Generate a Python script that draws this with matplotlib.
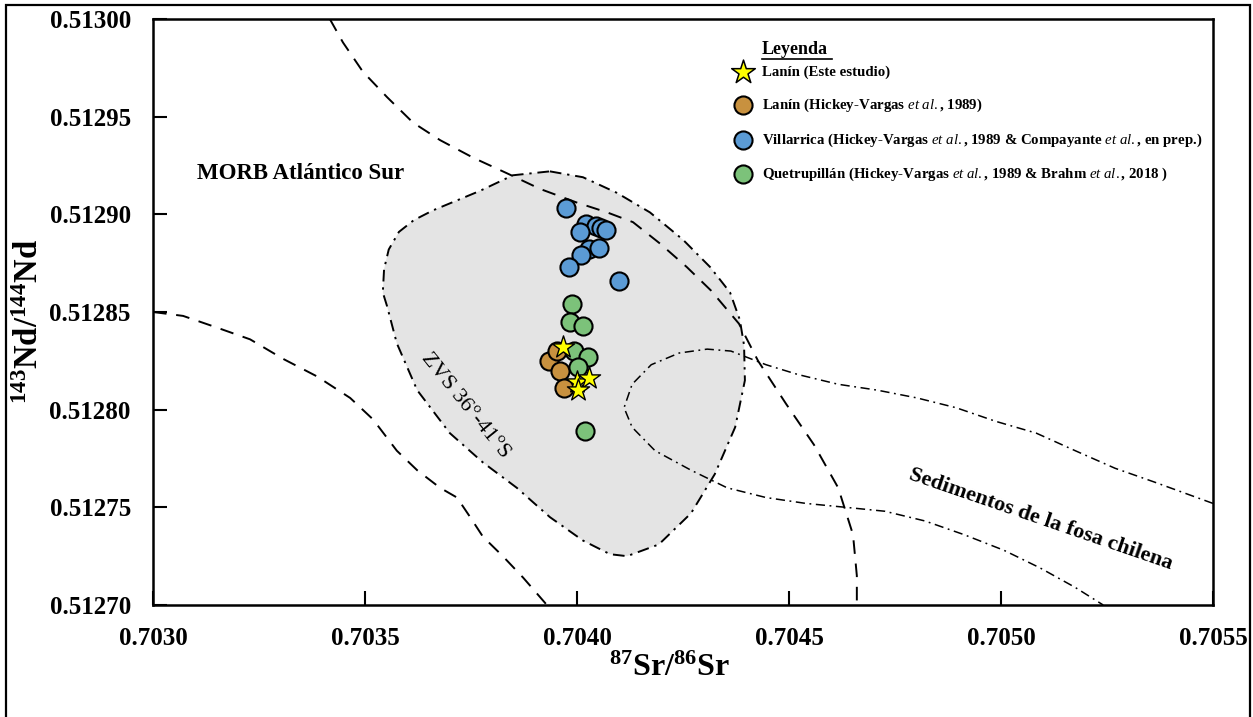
import matplotlib
matplotlib.use("Agg")
import matplotlib.pyplot as plt
from matplotlib.patches import Polygon, Rectangle
from matplotlib.lines import Line2D

plt.rcParams['font.family'] = ['Liberation Serif', 'DejaVu Serif']
plt.rcParams['mathtext.fontset'] = 'custom'
plt.rcParams['mathtext.it'] = 'Liberation Serif:italic'
plt.rcParams['mathtext.rm'] = 'Liberation Serif'
plt.rcParams['mathtext.bf'] = 'Liberation Serif:bold'
plt.rcParams['mathtext.default'] = 'regular'

# ---- sample data: 87Sr/86Sr and 143Nd/144Nd ----
lanin_este_sr = [0.703968, 0.704000, 0.704029, 0.704002]
lanin_este_nd = [0.512832, 0.512814, 0.512816, 0.512810]

lanin_hv_sr = [0.703934, 0.703953, 0.703960, 0.703969]
lanin_hv_nd = [0.512825, 0.512830, 0.512820, 0.512811]

villarrica_sr = [0.703975, 0.704022, 0.704045, 0.704057, 0.704069, 0.704006,
                 0.704029, 0.704051, 0.704010, 0.703981, 0.704098]
villarrica_nd = [0.512903, 0.512895, 0.512894, 0.512893, 0.512892, 0.512891,
                 0.512882, 0.512883, 0.512879, 0.512873, 0.512866]

quetrupillan_sr = [0.703989, 0.703984, 0.704015, 0.703994, 0.704025, 0.704002, 0.704018]
quetrupillan_nd = [0.512854, 0.512845, 0.512843, 0.512830, 0.512827, 0.512822, 0.512789]

# ---- reference field boundaries ----
morb_upper_sr = [0.703417, 0.703448, 0.703495, 0.703552, 0.703613, 0.703677, 0.703755,
                 0.703835, 0.703913, 0.704000, 0.704071, 0.704132, 0.704196, 0.704259,
                 0.704316, 0.704382, 0.704427, 0.704493, 0.704559, 0.704616, 0.704651,
                 0.704660, 0.704660]
morb_upper_nd = [0.513000, 0.512988, 0.512973, 0.512960, 0.512947, 0.512938, 0.512929,
                 0.512921, 0.512913, 0.512906, 0.512901, 0.512896, 0.512885, 0.512873,
                 0.512861, 0.512844, 0.512825, 0.512803, 0.512782, 0.512760, 0.512736,
                 0.512715, 0.512700]

morb_lower_sr = [0.703000, 0.703071, 0.703151, 0.703229, 0.703307, 0.703387, 0.703465,
                 0.703519, 0.703575, 0.703623, 0.703677, 0.703717, 0.703748, 0.703778,
                 0.703825, 0.703873, 0.703913, 0.703929]
morb_lower_nd = [0.512850, 0.512848, 0.512842, 0.512836, 0.512826, 0.512817, 0.512806,
                 0.512795, 0.512779, 0.512769, 0.512760, 0.512755, 0.512745, 0.512735,
                 0.512725, 0.512714, 0.512704, 0.512700]

zvs_sr = [0.703936, 0.704014, 0.704094, 0.704172, 0.704250, 0.704314, 0.704361, 0.704384,
          0.704394, 0.704396, 0.704373, 0.704325, 0.704269, 0.704193, 0.704118, 0.704078,
          0.704014, 0.703936, 0.703858, 0.703778, 0.703700, 0.703623, 0.703575, 0.703552,
          0.703542, 0.703545, 0.703556, 0.703580, 0.703615, 0.703660, 0.703771, 0.703849]
zvs_nd = [0.512922, 0.512919, 0.512911, 0.512901, 0.512887, 0.512873, 0.512860, 0.512846,
          0.512833, 0.512815, 0.512791, 0.512767, 0.512747, 0.512731, 0.512725, 0.512726,
          0.512733, 0.512745, 0.512760, 0.512773, 0.512788, 0.512810, 0.512834, 0.512853,
          0.512860, 0.512872, 0.512882, 0.512891, 0.512897, 0.512902, 0.512912, 0.512920]

sed_sr = [0.705500, 0.705361, 0.705269, 0.705175, 0.705083, 0.704988, 0.704894, 0.704802,
          0.704708, 0.704616, 0.704521, 0.704446, 0.704363, 0.704307, 0.704241, 0.704175,
          0.704130, 0.704111, 0.704130, 0.704184, 0.704269, 0.704354, 0.704446, 0.704540,
          0.704634, 0.704726, 0.704821, 0.704913, 0.705007, 0.705092, 0.705175, 0.705241]
sed_nd = [0.512752, 0.512763, 0.512770, 0.512779, 0.512788, 0.512794, 0.512801, 0.512806,
          0.512810, 0.512813, 0.512818, 0.512823, 0.512830, 0.512831, 0.512829, 0.512823,
          0.512813, 0.512801, 0.512791, 0.512779, 0.512769, 0.512760, 0.512755, 0.512752,
          0.512750, 0.512748, 0.512743, 0.512736, 0.512728, 0.512719, 0.512709, 0.512700]

x_ticks = [0.7030, 0.7035, 0.7040, 0.7045, 0.7050, 0.7055]
y_ticks = [0.51270, 0.51275, 0.51280, 0.51285, 0.51290, 0.51295, 0.51300]

legend_labels = [
    "Lanín (Este estudio)",
    r"Lanín (Hickey-Vargas $\mathit{et\ al.}$, 1989)",
    r"Villarrica (Hickey-Vargas $\mathit{et\ al.}$, 1989 & Compayante $\mathit{et\ al.}$, en prep.)",
    r"Quetrupillán (Hickey-Vargas $\mathit{et\ al.}$, 1989 & Brahm $\mathit{et\ al.}$, 2018 )",
]

c_orange = "#c8913f"
c_blue = "#5b9bd5"
c_green = "#7cc27a"
c_star = "#ffff00"
c_field = "#e4e4e4"

fig = plt.figure(figsize=(12.53, 7.17), dpi=100)
ax = fig.add_axes([153 / 1253, 1 - 605 / 717, 1060 / 1253, 586 / 717])

# outer frame
fig.patches.append(Rectangle((6 / 1253, -0.02), 1244 / 1253, 1.02 - 5 / 717,
                             transform=fig.transFigure, fill=False,
                             edgecolor="black", linewidth=1.6))

dash = (0, (7, 5))
dashdot = (0, (6, 3, 1.2, 3))

# ZVS field
zvs = Polygon(list(zip(zvs_sr, zvs_nd)), closed=True, facecolor=c_field,
              edgecolor="black", linewidth=1.4, linestyle=dashdot, zorder=1)
ax.add_patch(zvs)

ax.plot(morb_upper_sr, morb_upper_nd, color="black", lw=1.4, ls=dash, zorder=2)
ax.plot(morb_lower_sr, morb_lower_nd, color="black", lw=1.4, ls=dash, zorder=2)
ax.plot(sed_sr, sed_nd, color="black", lw=1.1, ls=dashdot, zorder=2)

# samples
ax.scatter(lanin_hv_sr, lanin_hv_nd, s=170, facecolor=c_orange, edgecolor="black",
           linewidth=1.5, zorder=3)
ax.scatter(quetrupillan_sr, quetrupillan_nd, s=170, facecolor=c_green, edgecolor="black",
           linewidth=1.5, zorder=4)
ax.scatter(villarrica_sr, villarrica_nd, s=170, facecolor=c_blue, edgecolor="black",
           linewidth=1.5, zorder=5)
ax.scatter(lanin_este_sr, lanin_este_nd, s=280, marker="*", facecolor=c_star,
           edgecolor="black", linewidth=1.0, zorder=6)

# field labels
ax.text(0.703347, 0.512921, "MORB Atlántico Sur", fontsize=16.5, fontweight="bold",
        ha="center", va="center")
ax.text(0.703736, 0.512802, "ZVS 36°-41°S", fontsize=16, rotation=-51,
        ha="center", va="center", rotation_mode="anchor")
ax.text(0.705094, 0.512744, "Sedimentos de la fosa chilena", fontsize=16,
        fontweight="bold", rotation=-19, ha="center", va="center",
        rotation_mode="anchor")

# legend
ax.text(0.5745, 0.9471, "Leyenda", transform=ax.transAxes, fontsize=13,
        fontweight="bold", ha="left", va="center")
ax.add_line(Line2D([0.5745, 0.6405], [0.9325, 0.9325], transform=ax.transAxes,
                   color="black", lw=1.2))
rows_y = [0.9096, 0.8532, 0.7935, 0.7355]
styles = [dict(marker="*", s=320, facecolor=c_star, linewidth=1.1),
          dict(marker="o", s=170, facecolor=c_orange, linewidth=1.5),
          dict(marker="o", s=170, facecolor=c_blue, linewidth=1.5),
          dict(marker="o", s=170, facecolor=c_green, linewidth=1.5)]
for yy, lab, st in zip(rows_y, legend_labels, styles):
    ax.scatter([0.5566], [yy], transform=ax.transAxes, edgecolor="black",
               clip_on=False, zorder=7, **st)
    ax.text(0.5745, yy, lab, transform=ax.transAxes, fontsize=10.7,
            fontweight="bold", ha="left", va="center")

# axes
ax.set_xlim(0.7030, 0.7055)
ax.set_ylim(0.51270, 0.51300)
ax.set_xticks(x_ticks)
ax.set_yticks(y_ticks)
ax.set_xticklabels([f"{v:.4f}" for v in x_ticks])
ax.set_yticklabels([f"{v:.5f}" for v in y_ticks])
ax.tick_params(direction="in", length=10, width=1.5, pad=16, labelsize=18,
               top=False, right=False)
for lab in ax.get_xticklabels() + ax.get_yticklabels():
    lab.set_fontweight("bold")
for sp in ax.spines.values():
    sp.set_linewidth(1.8)

ax.set_xlabel(r"$^{87}$Sr/$^{86}$Sr", fontsize=23, fontweight="bold")
ax.set_ylabel(r"$^{143}$Nd/$^{144}$Nd", fontsize=23.5, fontweight="bold")
ax.xaxis.set_label_coords(0.4877, -0.108)
ax.xaxis.label.set_va("center")
ax.yaxis.set_label_coords(-0.1165, 0.483)
ax.yaxis.label.set_va("center")

fig.savefig("out.png", dpi=100)
